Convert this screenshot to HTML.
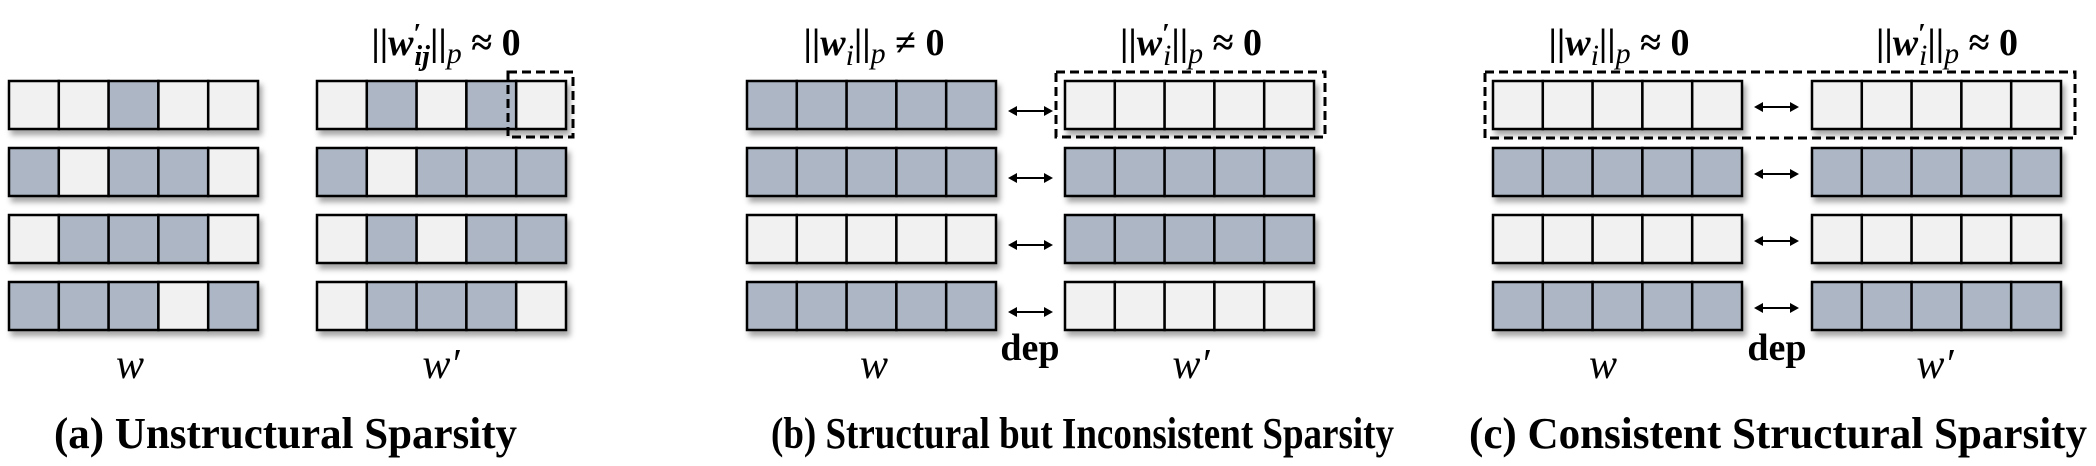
<!DOCTYPE html>
<html><head><meta charset="utf-8"><style>
html,body{margin:0;padding:0;background:#fff;width:2096px;height:466px;overflow:hidden}
svg{display:block}
.f{font-family:"Liberation Serif",serif;font-weight:bold;font-size:38px;fill:#000}
.cap{font-family:"Liberation Serif",serif;font-weight:bold;font-size:44px;fill:#000}
.lab{font-family:"Liberation Serif",serif;font-style:italic;font-size:42px;fill:#000}
</style></head><body>
<svg id="fig" width="2096" height="466" viewBox="0 0 2096 466" xmlns="http://www.w3.org/2000/svg">
<defs><filter id="sh" x="-5%" y="-20%" width="115%" height="160%"><feDropShadow dx="3" dy="5" stdDeviation="3" flood-color="#000" flood-opacity="0.35"/></filter></defs>
<g id="grids"></g>
<g id="deco"></g>
<!-- panel a -->
<text class="f" x="446" y="55" text-anchor="middle">||<tspan font-style="italic">w</tspan><tspan font-size="28" dy="-12">′</tspan><tspan font-size="28" font-style="italic" dx="-7" dy="22">ij</tspan><tspan dy="-10">||</tspan><tspan font-size="30" font-style="italic" font-weight="normal" dy="8">p</tspan><tspan dy="-8"> ≈ 0</tspan></text>
<text class="lab" x="130" y="378" text-anchor="middle">w</text>
<text class="lab" x="441" y="378" text-anchor="middle">w′</text>
<text class="cap" x="54" y="448" textLength="463" lengthAdjust="spacingAndGlyphs">(a) Unstructural Sparsity</text>
<!-- panel b -->
<text class="f" x="874" y="55" text-anchor="middle">||<tspan font-style="italic">w</tspan><tspan font-size="30" font-style="italic" font-weight="normal" dy="10">i</tspan><tspan dy="-10">||</tspan><tspan font-size="30" font-style="italic" font-weight="normal" dy="8">p</tspan><tspan dy="-8"> ≠ 0</tspan></text>
<text class="f" x="1191" y="55" text-anchor="middle">||<tspan font-style="italic">w</tspan><tspan font-size="28" dy="-12">′</tspan><tspan font-size="30" font-style="italic" font-weight="normal" dx="-7" dy="22">i</tspan><tspan dy="-10">||</tspan><tspan font-size="30" font-style="italic" font-weight="normal" dy="8">p</tspan><tspan dy="-8"> ≈ 0</tspan></text>
<text class="lab" x="874" y="378" text-anchor="middle">w</text>
<text class="lab" x="1191" y="378" text-anchor="middle">w′</text>
<text class="f" x="1030" y="360" font-size="42" text-anchor="middle">dep</text>
<text class="cap" x="771" y="448" textLength="623" lengthAdjust="spacingAndGlyphs">(b) Structural but Inconsistent Sparsity</text>
<!-- panel c -->
<text class="f" x="1619" y="55" text-anchor="middle">||<tspan font-style="italic">w</tspan><tspan font-size="30" font-style="italic" font-weight="normal" dy="10">i</tspan><tspan dy="-10">||</tspan><tspan font-size="30" font-style="italic" font-weight="normal" dy="8">p</tspan><tspan dy="-8"> ≈ 0</tspan></text>
<text class="f" x="1947" y="55" text-anchor="middle">||<tspan font-style="italic">w</tspan><tspan font-size="28" dy="-12">′</tspan><tspan font-size="30" font-style="italic" font-weight="normal" dx="-7" dy="22">i</tspan><tspan dy="-10">||</tspan><tspan font-size="30" font-style="italic" font-weight="normal" dy="8">p</tspan><tspan dy="-8"> ≈ 0</tspan></text>
<text class="lab" x="1603" y="378" text-anchor="middle">w</text>
<text class="lab" x="1935" y="378" text-anchor="middle">w′</text>
<text class="f" x="1777" y="360" font-size="42" text-anchor="middle">dep</text>
<text class="cap" x="1469" y="448" textLength="618" lengthAdjust="spacingAndGlyphs">(c) Consistent Structural Sparsity</text>
</svg>
<script>
const aW = [[0,0,1,0,0],[1,0,1,1,0],[0,1,1,1,0],[1,1,1,0,1]];
const aWp = [[0,1,0,1,0],[1,0,1,1,1],[0,1,0,1,1],[0,1,1,1,0]];
const bW = [[1,1,1,1,1],[1,1,1,1,1],[0,0,0,0,0],[1,1,1,1,1]];
const bWp = [[0,0,0,0,0],[1,1,1,1,1],[1,1,1,1,1],[0,0,0,0,0]];
const cW = [[0,0,0,0,0],[1,1,1,1,1],[0,0,0,0,0],[1,1,1,1,1]];
const cWp = [[0,0,0,0,0],[1,1,1,1,1],[0,0,0,0,0],[1,1,1,1,1]];
const NS='http://www.w3.org/2000/svg';
const grids=document.getElementById('grids');
const deco=document.getElementById('deco');
const rowTop=r=>81+r*67, rowH=48, cellW=49.8;
function grid(data,x0,name){
  data.forEach((row,r)=>{
    const g=document.createElementNS(NS,'g');
    g.setAttribute('filter','url(#sh)');
    
    
    row.forEach((v,c)=>{
      const rc=document.createElementNS(NS,'rect');
      rc.setAttribute('x',x0+c*cellW);rc.setAttribute('y',rowTop(r));
      rc.setAttribute('width',cellW);rc.setAttribute('height',rowH);
      rc.setAttribute('fill',v?'#adb6c4':'#f1f1f1');
      rc.setAttribute('stroke','#000');rc.setAttribute('stroke-width','2.5');
      
      
      g.appendChild(rc);
    });
    grids.appendChild(g);
  });
}
grid(aW,9,'a-w');grid(aWp,317,'a-w-prime');
grid(bW,747,'b-w');grid(bWp,1065,'b-w-prime');
grid(cW,1493,'c-w');grid(cWp,1812,'c-w-prime');
function dash(x,y,w,h,name){
  const rc=document.createElementNS(NS,'rect');
  rc.setAttribute('x',x);rc.setAttribute('y',y);rc.setAttribute('width',w);rc.setAttribute('height',h);
  rc.setAttribute('fill','none');rc.setAttribute('stroke','#000');rc.setAttribute('stroke-width','3');
  rc.setAttribute('stroke-dasharray','9 5');
  
  
  deco.appendChild(rc);
}
dash(508,72,65,65,'highlight-box-a');
dash(1056,72,269,65,'highlight-box-b');
dash(1485,72,590,66,'highlight-box-c');
function arrow(x1,x2,y,name){
  const g=document.createElementNS(NS,'g');
  
  
  g.innerHTML=`<line x1="${x1+6}" y1="${y}" x2="${x2-6}" y2="${y}" stroke="#000" stroke-width="2"/>
  <polygon points="${x1},${y} ${x1+9},${y-5} ${x1+9},${y+5}" fill="#000"/>
  <polygon points="${x2},${y} ${x2-9},${y-5} ${x2-9},${y+5}" fill="#000"/>`;
  deco.appendChild(g);
}
for(let r=0;r<4;r++){
  arrow(1008,1053,rowTop(r)+30,'dep-arrow-b');
  arrow(1754,1799,rowTop(r)+26,'dep-arrow-c');
}
</script>
</body></html>
